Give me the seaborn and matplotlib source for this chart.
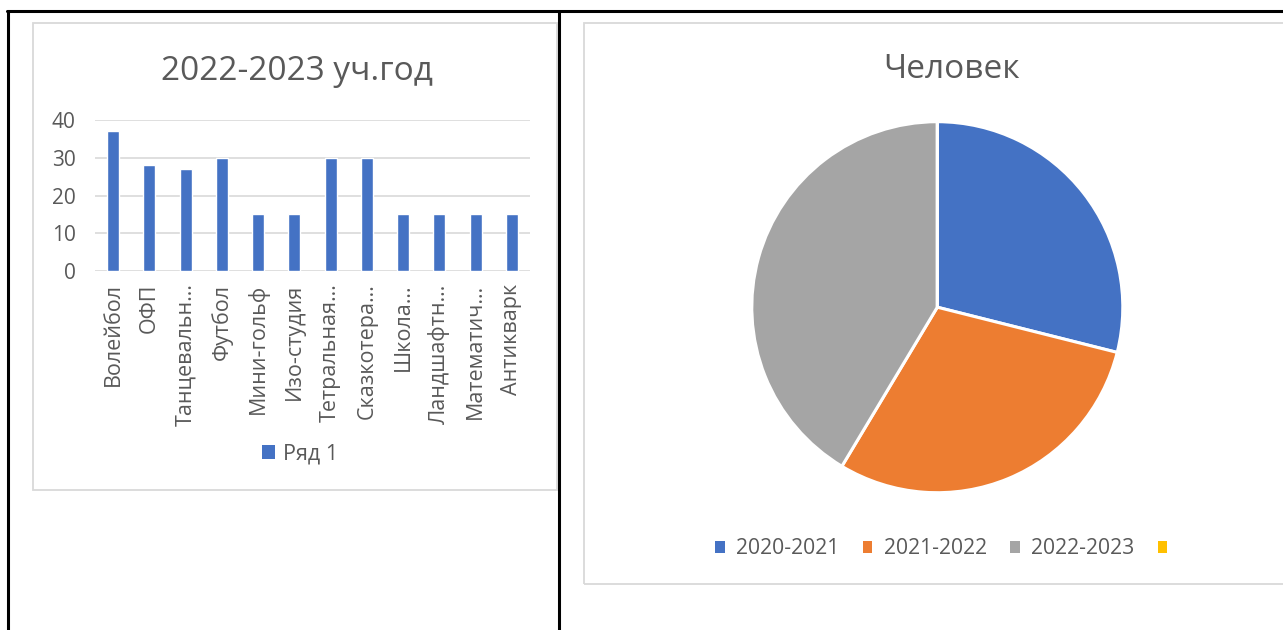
import matplotlib
matplotlib.use("Agg")
import matplotlib.pyplot as plt
from matplotlib.patches import Rectangle, Patch
from matplotlib.lines import Line2D
import seaborn as sns
import pandas as pd

# ---------------- data ----------------
bar_title = "2022-2023 уч.год"
bar_categories = ["Волейбол", "ОФП", "Танцевальн…", "Футбол", "Мини-гольф",
                  "Изо-студия", "Тетральная…", "Сказкотера…", "Школа…",
                  "Ландшафтн…", "Математич…", "Антикварк"]
bar_values = [37, 28, 27, 30, 15, 15, 30, 30, 15, 15, 15, 15]
bar_series = "Ряд 1"
y_ticks = [0, 10, 20, 30, 40]

pie_title = "Человек"
pie_labels = ["2020-2021", "2021-2022", "2022-2023", ""]
pie_values = [190, 195, 272, 0]

# ---------------- style ----------------
sns.set_theme(style="white")
plt.rcParams['font.family'] = ['Open Sans', 'DejaVu Sans']
TXT = "#595959"
GRID = "#D9D9D9"
BLUE = "#4472C4"
pie_colors = ["#4472C4", "#ED7D31", "#A5A5A5", "#FFC000"]

W, H = 1283, 630
fig = plt.figure(figsize=(W / 100, H / 100), dpi=100)
fig.patch.set_facecolor("white")


def fx(px):
    return px / W


def fy(py):
    return 1 - py / H


# table borders (black)
for (x0, y0, x1, y1) in [(7, 11, 1283, 11), (8, 11, 8, 630), (559, 11, 559, 630)]:
    fig.add_artist(Line2D([fx(x0), fx(x1)], [fy(y0), fy(y1)], color="black",
                          lw=2.2, transform=fig.transFigure))

# chart frames (light grey)
fig.add_artist(Rectangle((fx(33), fy(490)), fx(557) - fx(33), fy(23) - fy(490),
                         transform=fig.transFigure, fill=False, edgecolor=GRID, lw=1.3))
fig.add_artist(Rectangle((fx(584), fy(584)), fx(1290) - fx(584), fy(23) - fy(584),
                         transform=fig.transFigure, fill=False, edgecolor=GRID, lw=1.3))

# ---------------- bar chart ----------------
df = pd.DataFrame({"cat": bar_categories, "val": bar_values})
ax = fig.add_axes([fx(95), fy(271), fx(530) - fx(95), fy(120) - fy(271)])
sns.barplot(data=df, x="cat", y="val", color=BLUE, width=0.33, ax=ax,
            saturation=1, zorder=3)
ax.set_xlim(-0.5, len(bar_categories) - 0.5)
ax.set_ylim(0, 40)
ax.set_yticks(y_ticks)
ax.set_yticklabels([str(t) for t in y_ticks])
ax.set_xlabel("")
ax.set_ylabel("")
for s in ax.spines.values():
    s.set_visible(False)
ax.grid(axis="y", color=GRID, lw=1.2, zorder=0)
ax.grid(axis="x", visible=False)
ax.set_axisbelow(True)
ax.tick_params(axis="y", length=0, pad=14, labelsize=15, labelcolor=TXT)
ax.tick_params(axis="x", length=0, pad=9, labelsize=15.5, labelcolor=TXT)
for lab in ax.get_xticklabels():
    lab.set_rotation(90)
    lab.set_ha("center")
    lab.set_va("top")
ax.set_facecolor("none")

fig.text(fx(297), fy(72), bar_title, ha="center", va="center", fontsize=24, color=TXT)

# bar legend
fig.legend(handles=[Patch(facecolor=BLUE, edgecolor="none", label=bar_series)],
           loc="center", bbox_to_anchor=(fx(300), fy(454)), frameon=False,
           fontsize=15.5, labelcolor=TXT, handlelength=0.6, handleheight=0.6,
           handletextpad=0.4)

# ---------------- pie chart ----------------
cx, cy, r = 937.3, 307.2, 185.5
pax = fig.add_axes([fx(cx - r), fy(cy + r), fx(2 * r), (2 * r) / H])
wedges, _ = pax.pie(pie_values, colors=pie_colors, startangle=90, counterclock=False,
                    radius=1, wedgeprops=dict(edgecolor="white", linewidth=2.2))
pax.set_xlim(-1, 1)
pax.set_ylim(-1, 1)
pax.set_aspect("equal")
pax.axis("off")

fig.text(fx(952), fy(69), pie_title, ha="center", va="center", fontsize=24, color=TXT)

handles = [Patch(facecolor=c, edgecolor="none", label=l) for c, l in zip(pie_colors, pie_labels)]
fig.legend(handles=handles, loc="center", bbox_to_anchor=(fx(947), fy(549)), ncol=4,
           frameon=False, fontsize=15.2, labelcolor=TXT, handlelength=0.45,
           handleheight=0.45, handletextpad=0.55, columnspacing=1.1)

fig.savefig("out.png", dpi=100, facecolor="white")
